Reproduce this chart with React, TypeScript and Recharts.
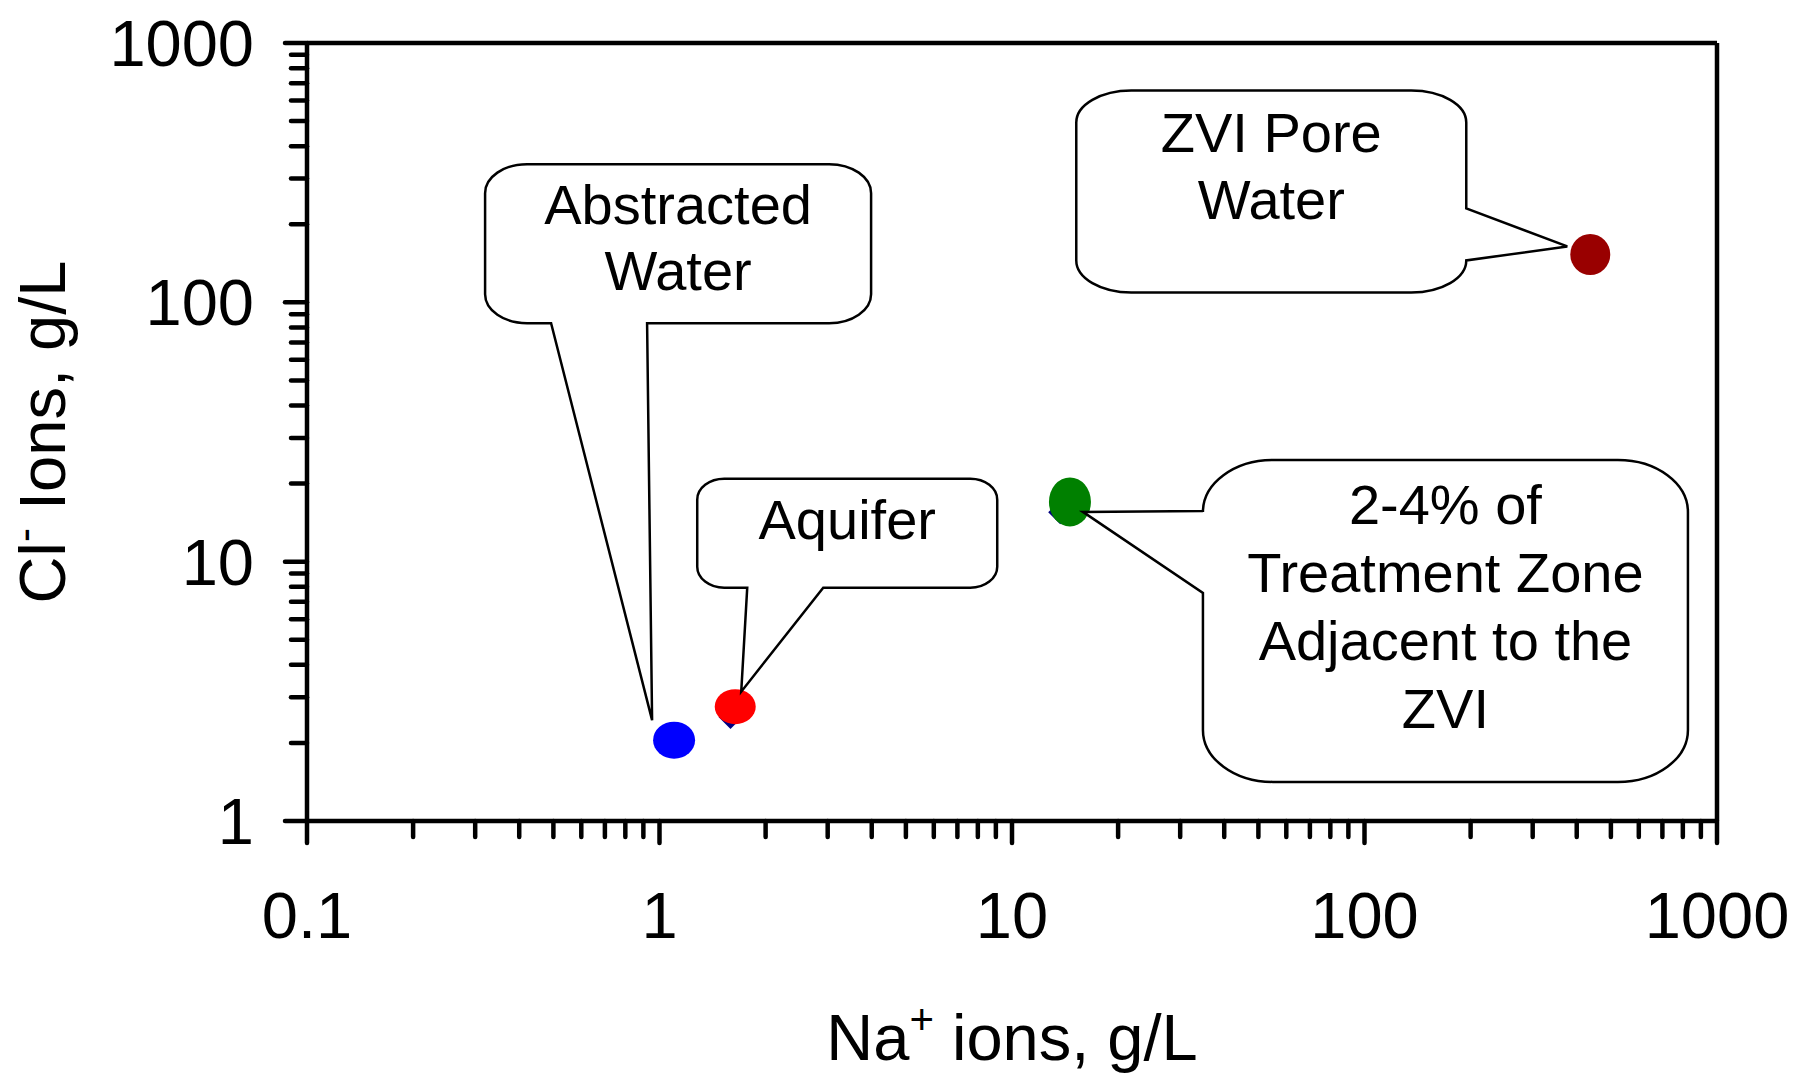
import React from "react";
import { ScatterChart, Scatter, XAxis, YAxis, ReferenceLine } from "recharts";

// samples, Na+ vs Cl- (g/L)
const sampleNames = ["Abstracted Water", "Aquifer", "2-4% of Treatment Zone Adjacent to the ZVI", "ZVI Pore Water"];
const naIons = [1.1, 1.64, 14.6, 437];
const clIons = [2.05, 2.76, 17.0, 153];

// series mostly hidden under the coloured markers
const hiddenNa = [1.59, 13.7];
const hiddenCl = [2.52, 15.5];

const calloutText = [["Abstracted", "Water"], ["Aquifer"], ["2-4% of", "Treatment Zone", "Adjacent to the", "ZVI"], ["ZVI Pore", "Water"]];

const xTicks = [0.1, 0.2, 0.3, 0.4, 0.5, 0.6, 0.7, 0.8, 0.9, 1, 2, 3, 4, 5, 6, 7, 8, 9, 10, 20, 30, 40, 50, 60, 70, 80, 90, 100, 200, 300, 400, 500, 600, 700, 800, 900, 1000];
const yTicks = [1, 2, 3, 4, 5, 6, 7, 8, 9, 10, 20, 30, 40, 50, 60, 70, 80, 90, 100, 200, 300, 400, 500, 600, 700, 800, 900, 1000];
const majorTicks = [0.1, 1, 10, 100, 1000];

const FONT = '"Liberation Sans", Arial, sans-serif';

const markerStyle = [
  { fill: "#0000FF", rx: 21, ry: 18.5 },
  { fill: "#FF0000", rx: 20.5, ry: 17.5 },
  { fill: "#008000", rx: 21, ry: 24.5 },
  { fill: "#990000", rx: 20, ry: 20.5 },
];

// callout geometry, pixel offsets from the marker it points at
const calloutGeom = [
  { box: [-189, -576, 197, -417], r: [42, 29], edge: "bottom", base: [-123, -27], tip: [-22, -20], top: 60, lh: 66 },
  { box: [-38, -228, 262, -119], r: [27, 21], edge: "bottom", base: [12, 88], tip: [6, -15], top: 60, lh: 66 },
  { box: [133, -42, 618, 280], r: [70, 52], edge: "left", base: [9, 91], tip: [13, 10], top: 64, lh: 68 },
  { box: [-514, -164, -124, 38], r: [55, 32], edge: "right", base: [-46, 6], tip: [-23, -8], top: 62, lh: 67 },
];

function calloutPath(cx: number, cy: number, c: any) {
  const [bx0, by0, bx1, by1] = c.box;
  const x0 = cx + bx0, y0 = cy + by0, x1 = cx + bx1, y1 = cy + by1;
  const [rx, ry] = c.r;
  const tx = cx + c.tip[0], ty = cy + c.tip[1];
  const [b1, b2] = c.base;
  let d = `M${x0 + rx},${y0} H${x1 - rx} A${rx},${ry} 0 0 1 ${x1},${y0 + ry}`;
  if (c.edge === "right") d += ` V${cy + b1} L${tx},${ty} L${x1},${cy + b2}`;
  d += ` V${y1 - ry} A${rx},${ry} 0 0 1 ${x1 - rx},${y1}`;
  if (c.edge === "bottom") d += ` H${cx + b2} L${tx},${ty} L${cx + b1},${y1}`;
  d += ` H${x0 + rx} A${rx},${ry} 0 0 1 ${x0},${y1 - ry}`;
  if (c.edge === "left") d += ` V${cy + b2} L${tx},${ty} L${x0},${cy + b1}`;
  d += ` V${y0 + ry} A${rx},${ry} 0 0 1 ${x0 + rx},${y0} Z`;
  return d;
}

function Callout({ cx, cy, idx }: any) {
  const c = calloutGeom[idx];
  const midX = cx + (c.box[0] + c.box[2]) / 2;
  const topY = cy + c.box[1];
  return (
    <g>
      <path d={calloutPath(cx, cy, c)} fill="#fff" stroke="#000" strokeWidth={2.5} strokeLinejoin="miter" />
      {calloutText[idx].map((line, i) => (
        <text key={i} x={midX} y={topY + c.top + i * c.lh} textAnchor="middle" fontSize={56} fontFamily={FONT} fill="#000">
          {line}
        </text>
      ))}
    </g>
  );
}

const fmt = (v: number) => (v < 1 ? String(v) : String(Math.round(v)));

const XTick = (props: any) => {
  const { x, y, payload } = props;
  const major = majorTicks.includes(payload.value);
  return (
    <g>
      <line x1={x} y1={y} x2={x} y2={y + (major ? 22 : 16)} stroke="#000" strokeWidth={4.5} strokeLinecap="round" />
      {major && (
        <text x={x} y={y + 117} textAnchor="middle" fontSize={65} fontFamily={FONT} fill="#000">
          {fmt(payload.value)}
        </text>
      )}
    </g>
  );
};

const YTick = (props: any) => {
  const { x, y, payload } = props;
  const major = majorTicks.includes(payload.value);
  return (
    <g>
      <line x1={x} y1={y} x2={x - (major ? 22 : 16)} y2={y} stroke="#000" strokeWidth={4.5} strokeLinecap="round" />
      {major && (
        <text x={x - 53} y={y + 23} textAnchor="end" fontSize={65} fontFamily={FONT} fill="#000">
          {fmt(payload.value)}
        </text>
      )}
    </g>
  );
};

const XTitle = (props: any) => {
  const vb = props.viewBox || { x: 299, y: 813, width: 1410, height: 263 };
  return (
    <text x={vb.x + vb.width / 2} y={vb.y + 239} textAnchor="middle" fontSize={65} fontFamily={FONT} fill="#000">
      Na
      <tspan fontSize={42} dy={-26}>+</tspan>
      <tspan dy={26}> ions, g/L</tspan>
    </text>
  );
};

const YTitle = (props: any) => {
  const vb = props.viewBox || { x: 0, y: 35, width: 299, height: 778 };
  const cx = vb.x + 57;
  const cy = vb.y + vb.height / 2;
  return (
    <text x={cx} y={cy} transform={`rotate(-90, ${cx}, ${cy})`} textAnchor="middle" fontSize={65} fontFamily={FONT} fill="#000">
      Cl
      <tspan fontSize={42} dy={-26}>-</tspan>
      <tspan dy={26}> Ions, g/L</tspan>
    </text>
  );
};

export default function App() {
  const samples = naIons.map((x, i) => ({ x, y: clIons[i], name: sampleNames[i] }));
  const hidden = hiddenNa.map((x, i) => ({ x, y: hiddenCl[i] }));

  return (
    <div style={{ width: 1785, height: 1076, background: "#fff" }}>
      <ScatterChart width={1785} height={1076} margin={{ top: 35, right: 76, bottom: 0, left: 0 }}>
        <XAxis
          type="number"
          dataKey="x"
          scale="log"
          domain={[0.1, 1000]}
          allowDataOverflow
          ticks={xTicks}
          interval={0}
          tickSize={0}
          tickMargin={0}
          tickLine={false}
          tick={XTick}
          axisLine={{ stroke: "#000", strokeWidth: 4.5 }}
          height={263}
          label={{ content: XTitle }}
        />
        <YAxis
          type="number"
          dataKey="y"
          scale="log"
          domain={[1, 1000]}
          allowDataOverflow
          ticks={yTicks}
          interval={0}
          tickSize={0}
          tickMargin={0}
          tickLine={false}
          tick={YTick}
          axisLine={{ stroke: "#000", strokeWidth: 4.5 }}
          width={299}
          label={{ content: YTitle }}
        />
        <ReferenceLine y={1000} stroke="#000" strokeWidth={4.5} />
        <ReferenceLine x={1000} stroke="#000" strokeWidth={4.5} />
        <Scatter
          data={hidden}
          isAnimationActive={false}
          shape={(p: any) => (
            <path d={`M${p.cx},${p.cy - 12} L${p.cx + 12},${p.cy} L${p.cx},${p.cy + 12} L${p.cx - 12},${p.cy} Z`} fill="#000080" />
          )}
        />
        {samples.map((s, i) => (
          <Scatter
            key={s.name}
            name={s.name}
            data={[s]}
            isAnimationActive={false}
            shape={(p: any) => <ellipse cx={p.cx} cy={p.cy} rx={markerStyle[i].rx} ry={markerStyle[i].ry} fill={markerStyle[i].fill} />}
          />
        ))}
        {samples.map((s, i) => (
          <Scatter
            key={"callout-" + s.name}
            data={[s]}
            isAnimationActive={false}
            shape={(p: any) => <Callout cx={p.cx} cy={p.cy} idx={i} />}
          />
        ))}
      </ScatterChart>
    </div>
  );
}
